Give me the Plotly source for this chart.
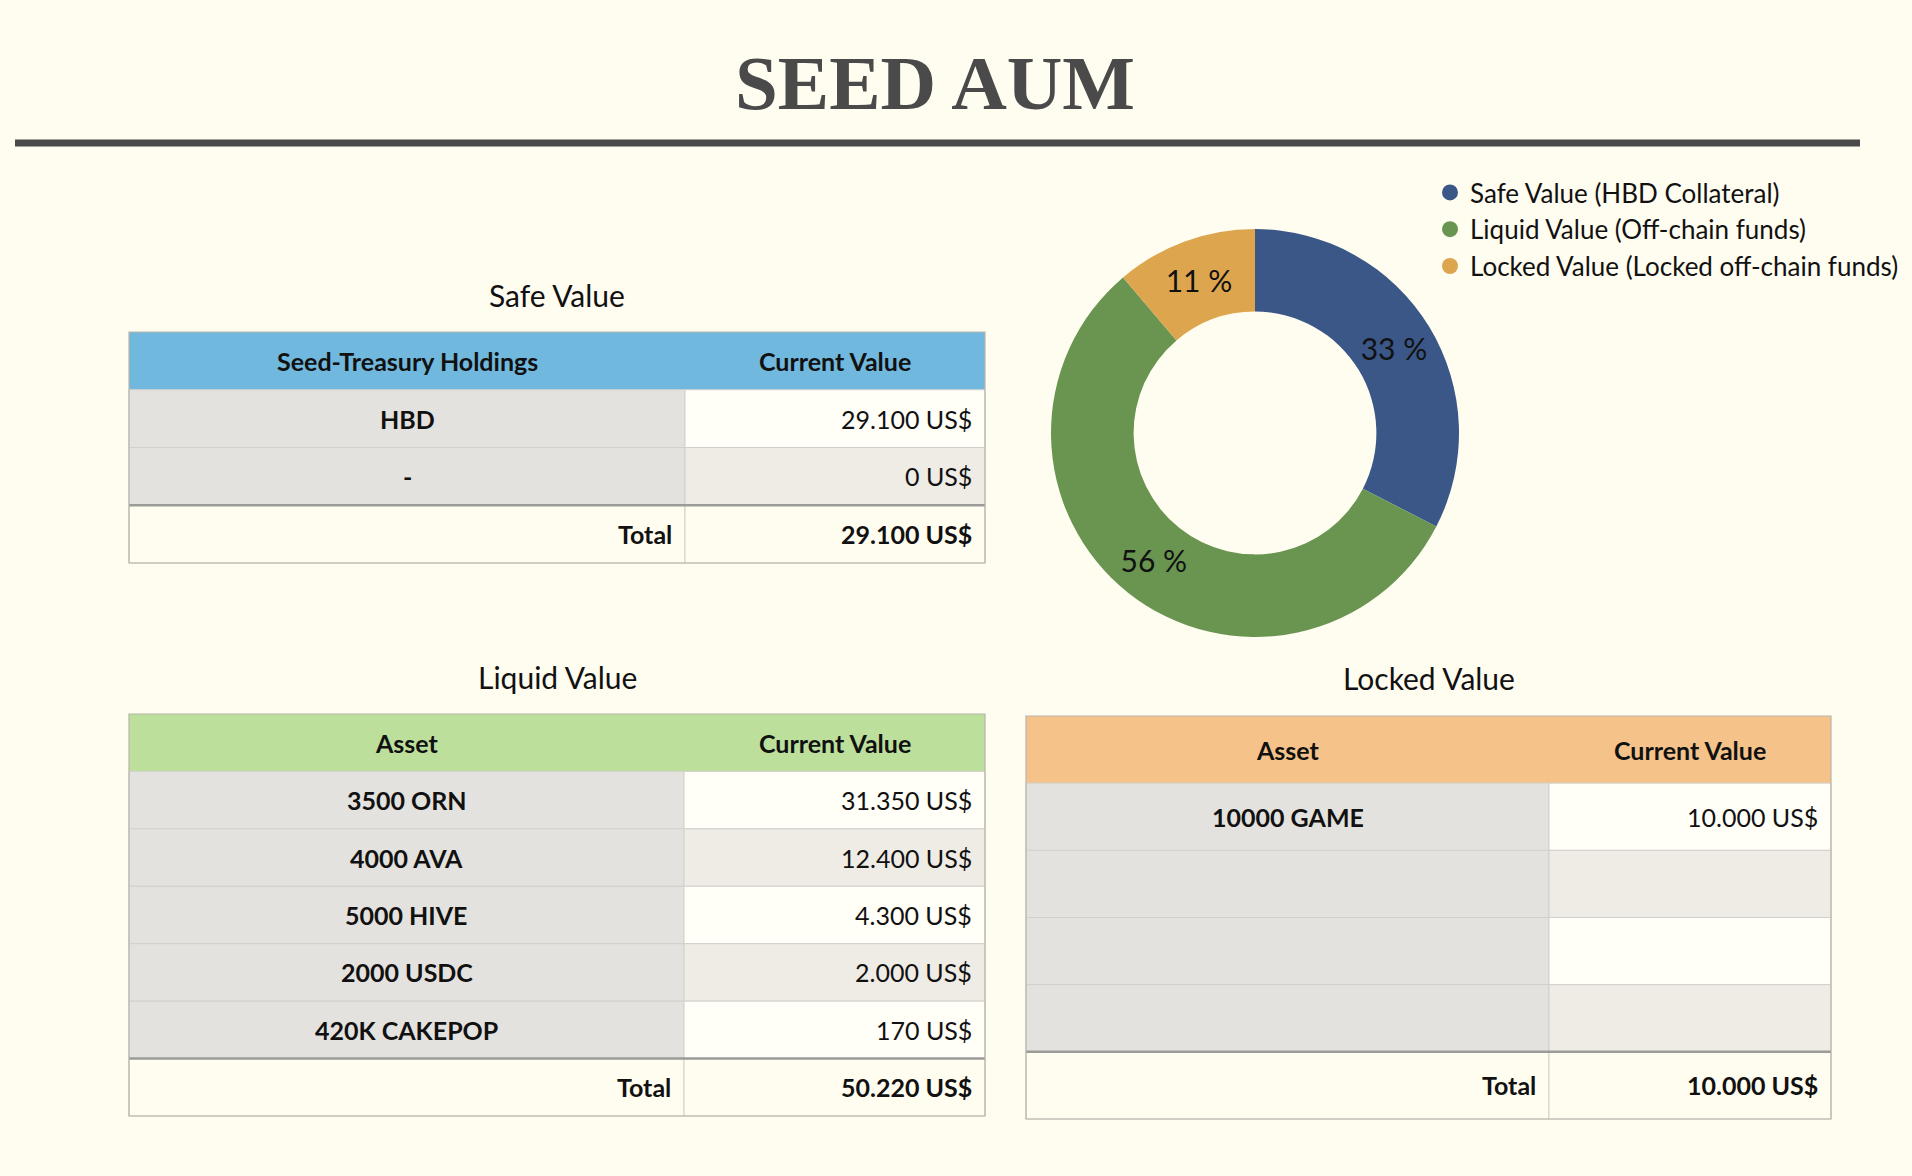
import plotly.graph_objects as go

W, H = 1912, 1176

# ---------------- data ----------------
pie_labels = ["Safe Value (HBD Collateral)", "Liquid Value (Off-chain funds)",
              "Locked Value (Locked off-chain funds)"]

safe_headers = ["Seed-Treasury Holdings", "Current Value"]
safe_assets = ["HBD", "-"]
safe_values = [29100, 0]

liquid_headers = ["Asset", "Current Value"]
liquid_assets = ["3500 ORN", "4000 AVA", "5000 HIVE", "2000 USDC", "420K CAKEPOP"]
liquid_values = [31350, 12400, 4300, 2000, 170]

locked_headers = ["Asset", "Current Value"]
locked_assets = ["10000 GAME", "", "", ""]
locked_values = [10000, None, None, None]

safe_total = sum(v for v in safe_values if v is not None)
liquid_total = sum(v for v in liquid_values if v is not None)
locked_total = sum(v for v in locked_values if v is not None)
pie_values = [safe_total, liquid_total, locked_total]

# ---------------- styles ----------------
BG = "#fffcf0"
FONT = "Lato, 'Open Sans', sans-serif"
TXT = "#111111"
PIE_COLORS = ["#3a5787", "#699551", "#dea54f"]
GREY = "#e4e2de"
WHITE = "#fffef7"
ALT = "#efebe5"
INNER = "#d2d0cc"
OUTER = "#b9b4aa"
THICK = "#9b9b97"
CELL_SIZE = 25


def fmt(v):
    if v is None:
        return ""
    return f"{v:,}".replace(",", ".") + " US$"


fig = go.Figure()

# donut
total = sum(pie_values)
pie_text = [f"{round(100 * v / total)} %" for v in pie_values]
cx, cy, R = 1255, 433, 204
fig.add_trace(go.Pie(
    labels=pie_labels, values=pie_values, text=pie_text, textinfo="text",
    textposition="inside", insidetextorientation="horizontal",
    textfont=dict(size=30, color=TXT, family=FONT),
    hole=0.595, sort=False, direction="clockwise", rotation=0,
    marker=dict(colors=PIE_COLORS, line=dict(width=0)),
    showlegend=False, hoverinfo="label+value+percent",
    domain=dict(x=[(cx - R) / W, (cx + R) / W], y=[1 - (cy + R) / H, 1 - (cy - R) / H]),
))

shapes = []
annotations = []
title_y = {2: 295, 3: 677, 4: 678}


def add_table(idx, box, split, title, headers, header_color, assets, values, total_val):
    left, top, right, bottom = box
    xr, yr = f"x{idx}", f"y{idx}"
    nrows = len(assets) + 2
    rowh = (bottom - top) / nrows
    wid = right - left
    f = (split - left) / wid
    p = 3
    fig.update_layout({
        f"xaxis{idx}": dict(domain=[(left - p) / W, (right + p) / W], range=[-p / wid, 1 + p / wid],
                            visible=False, fixedrange=True, anchor=yr),
        f"yaxis{idx}": dict(domain=[1 - (bottom + p) / H, 1 - (top - p) / H],
                            range=[nrows + p / rowh, -p / rowh],
                            visible=False, fixedrange=True, anchor=xr),
    })
    fig.add_trace(go.Scatter(x=[None], y=[None], xaxis=xr, yaxis=yr, showlegend=False,
                             hoverinfo="skip"))

    def rect(x0, x1, y0, y1, fill, lc=INNER, lw=1):
        shapes.append(dict(type="rect", xref=xr, yref=yr, x0=x0, x1=x1, y0=y0, y1=y1,
                           fillcolor=fill, line=dict(color=lc, width=lw), layer="above"))

    def text(x, y, s, anchor="center", bold=False, size=CELL_SIZE, xshift=0):
        annotations.append(dict(xref=xr, yref=yr, x=x, y=y, text=(f"<b>{s}</b>" if bold else s),
                                showarrow=False, xanchor=anchor, yanchor="middle", xshift=xshift,
                                font=dict(family=FONT, size=size, color=TXT)))

    # header
    rect(0, 1, 0, 1, header_color, lw=0)
    text(f / 2, 0.5, headers[0], bold=True)
    text((f + 1) / 2, 0.5, headers[1], bold=True)
    # body
    for i, (a, v) in enumerate(zip(assets, values)):
        r = i + 1
        rect(0, f, r, r + 1, GREY)
        rect(f, 1, r, r + 1, WHITE if i % 2 == 0 else ALT)
        if a:
            text(f / 2, r + 0.5, a, bold=True)
        if v is not None:
            text(1, r + 0.5, fmt(v), anchor="right", xshift=-11)
    # total
    r = nrows - 1
    rect(0, f, r, r + 1, BG)
    rect(f, 1, r, r + 1, BG)
    text(f, r + 0.5, "Total", anchor="right", bold=True, xshift=-11)
    text(1, r + 0.5, fmt(total_val), anchor="right", bold=True, xshift=-11)
    shapes.append(dict(type="line", xref=xr, yref=yr, x0=0, x1=1, y0=r, y1=r,
                       line=dict(color=THICK, width=2.5), layer="above"))
    # outer border
    shapes.append(dict(type="rect", xref=xr, yref=yr, x0=0, x1=1, y0=0, y1=nrows,
                       line=dict(color=OUTER, width=1.2), layer="above"))
    # title (above the table, in domain units)
    dom_h = (bottom - top) + 2 * p
    annotations.append(dict(xref=f"{xr} domain", yref=f"{yr} domain", x=0.5,
                            y=1 + ((top - p) - title_y[idx]) / dom_h, text=title,
                            showarrow=False, xanchor="center", yanchor="middle",
                            font=dict(family=FONT, size=30, color=TXT)))


add_table(2, (129, 332, 985, 563), 685, "Safe Value", safe_headers, "#70b8dd",
          safe_assets, safe_values, safe_total)
add_table(3, (129, 714, 985, 1116), 684, "Liquid Value", liquid_headers, "#bcdf9c",
          liquid_assets, liquid_values, liquid_total)
add_table(4, (1026, 716, 1831, 1119), 1549, "Locked Value", locked_headers, "#f5c38a",
          locked_assets, locked_values, locked_total)

# legend entries (circle markers)
for lab, col in zip(pie_labels, PIE_COLORS):
    fig.add_trace(go.Scatter(x=[None], y=[None], xaxis="x2", yaxis="y2", mode="markers",
                             name=lab, marker=dict(color=col, size=26, symbol="circle"),
                             showlegend=True))

# main title and rule
annotations.append(dict(xref="paper", yref="paper", x=935 / W, y=1 - 83 / H,
                        text="<b>SEED AUM</b>", showarrow=False, xanchor="center", yanchor="middle",
                        font=dict(family="'Liberation Serif', 'DejaVu Serif', serif", size=77,
                                  color="#4a4a4a")))
shapes.append(dict(type="line", xref="paper", yref="paper", x0=15 / W, x1=1860 / W,
                   y0=1 - 143 / H, y1=1 - 143 / H, line=dict(color="#4a4a4a", width=7)))

fig.update_layout(
    width=W, height=H, margin=dict(l=0, r=0, t=0, b=0),
    paper_bgcolor=BG, plot_bgcolor=BG,
    shapes=shapes, annotations=annotations,
    showlegend=True,
    legend=dict(x=1430 / W, y=1 - 169 / H, xanchor="left", yanchor="top",
                font=dict(family=FONT, size=26, color=TXT), bgcolor="rgba(0,0,0,0)",
                itemsizing="trace", tracegroupgap=0),
    font=dict(family=FONT),
)

fig.write_html(
    "out.html",
    config={"displayModeBar": False},
    post_script="document.body.style.margin='0';document.body.style.background='%s';" % BG,
)
